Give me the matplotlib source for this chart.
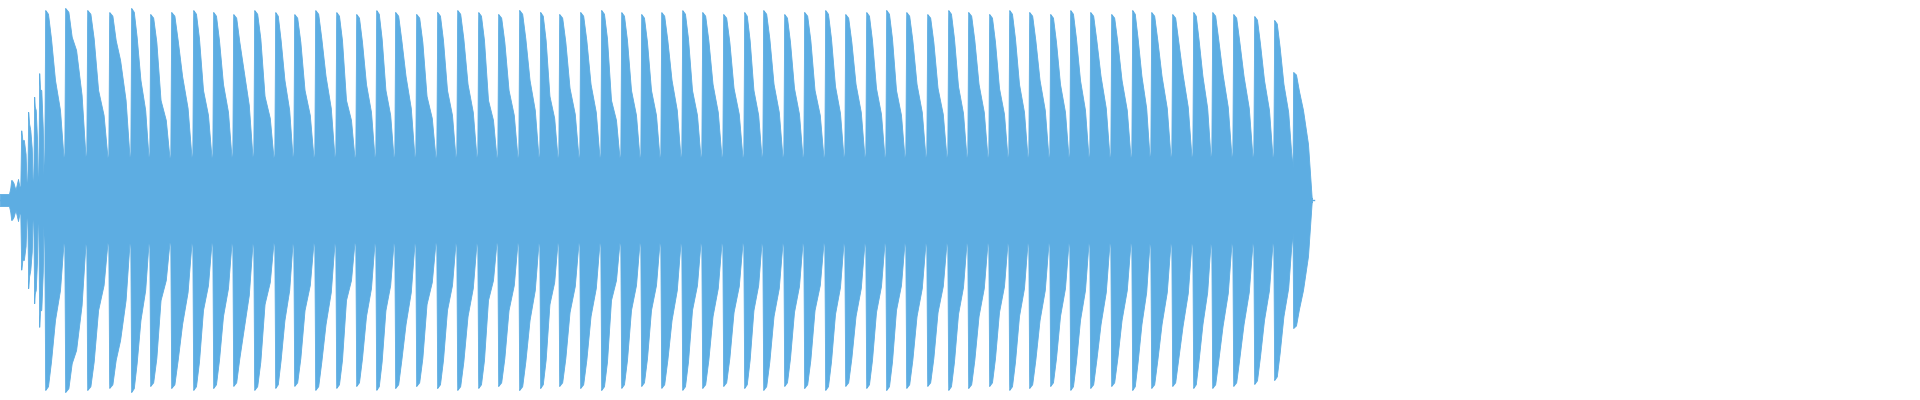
import numpy as np
import matplotlib
matplotlib.use("Agg")
import matplotlib.pyplot as plt

# pulse onsets (sample-position units), peak amplitude, shoulder amplitude at half period
onsets = [10, 20, 27, 33, 38, 44, 64, 86, 108, 130, 149, 170, 192, 212, 232, 253, 274, 293,
          314, 335, 355, 375, 394, 415, 436, 456, 477, 497, 518, 539, 558, 579, 600, 620,
          640, 660, 681, 701, 722, 743, 762, 783, 803, 824, 844, 865, 885, 905, 926, 947,
          967, 988, 1008, 1028, 1049, 1069, 1089, 1110, 1131, 1150, 1171, 1192, 1211, 1232,
          1253, 1273, 1292]
peaks = [0.10, 0.35, 0.45, 0.55, 0.65, 0.95, 0.96, 0.95, 0.94, 0.96, 0.93, 0.94, 0.95, 0.94,
         0.93, 0.95, 0.94, 0.93, 0.95, 0.94, 0.93, 0.95, 0.94, 0.93, 0.94, 0.95, 0.94, 0.93,
         0.95, 0.94, 0.93, 0.94, 0.95, 0.94, 0.93, 0.94, 0.95, 0.94, 0.93, 0.94, 0.95, 0.93,
         0.94, 0.95, 0.93, 0.94, 0.95, 0.94, 0.93, 0.95, 0.94, 0.93, 0.95, 0.94, 0.93, 0.95,
         0.94, 0.93, 0.95, 0.94, 0.93, 0.94, 0.94, 0.93, 0.92, 0.90, 0.64]
shoulders = [0.05, 0.30, 0.35, 0.45, 0.55, 0.60, 0.75, 0.55, 0.70, 0.60, 0.50, 0.62, 0.55,
             0.58, 0.65, 0.52, 0.60, 0.55, 0.62, 0.50, 0.58, 0.55, 0.62, 0.52, 0.55, 0.58,
             0.50, 0.55, 0.60, 0.52, 0.56, 0.58, 0.50, 0.55, 0.55, 0.60, 0.55, 0.58, 0.56,
             0.55, 0.58, 0.56, 0.55, 0.57, 0.58, 0.56, 0.55, 0.58, 0.56, 0.57, 0.58, 0.56,
             0.58, 0.60, 0.58, 0.60, 0.62, 0.60, 0.62, 0.62, 0.63, 0.62, 0.63, 0.62, 0.60,
             0.58, 0.45]
floor_level = 0.2
end_pos = 1312

# build envelope knots from the pulse table
kx, ky = [0, 9], [0.03, 0.03]
for i, (t0, p, s) in enumerate(zip(onsets, peaks, shoulders)):
    t1 = onsets[i + 1] if i + 1 < len(onsets) else end_pos
    P = t1 - t0
    fl = floor_level if i > 4 else 0.06
    if i == len(onsets) - 1:
        fl = 0.01
    kx += [t0 + 0.3, t0 + 1.2, t0 + 0.2 * P, t0 + 0.35 * P, t0 + 0.55 * P, t0 + 0.8 * P, t1 - 0.3]
    ky += [fl, p, p * 0.98, p * 0.85, s, (s + fl) / 2 + 0.05, fl]
x = np.linspace(0, end_pos, 10000)
env = np.interp(x, kx, ky)

fig = plt.figure(figsize=(19.2, 4), dpi=100)
ax = fig.add_axes([0, 0, 1, 1])
col = "#5DADE2"
ax.fill_between(x, -env, env, color=col, linewidth=0.6, edgecolor=col)
ax.plot([0, end_pos + 2], [0, 0], color=col, lw=1)
ax.set_xlim(0, 1920)
ax.set_ylim(-1, 1)
ax.axis("off")
fig.savefig("out.png", dpi=100)
